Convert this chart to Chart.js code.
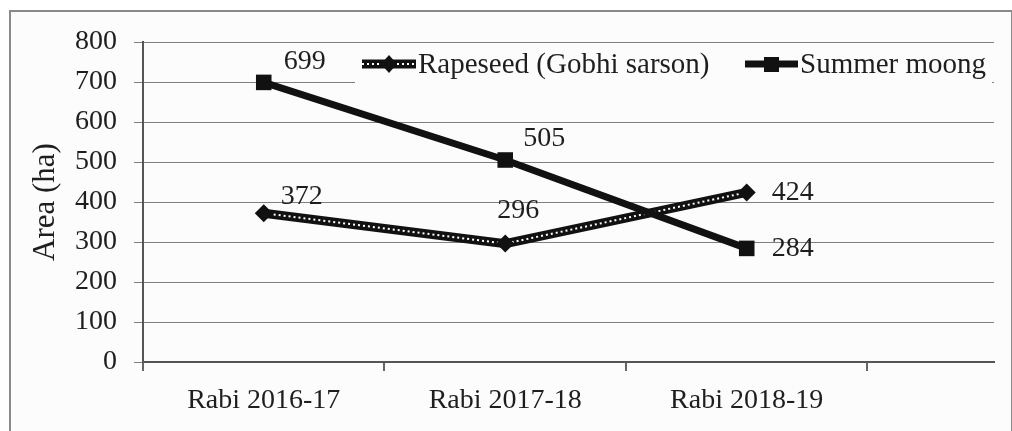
<!DOCTYPE html>
<html>
<head>
<meta charset="utf-8">
<script src="https://cdn.jsdelivr.net/npm/chart.js@4.4.1/dist/chart.umd.min.js"></script>
<style>
  html, body { margin: 0; padding: 0; background: #fff; }
  #frame { position: absolute; left: 9px; top: 10px; width: 1000px; height: 440px;
           border: 2px solid #8a8a8a; background: #fcfcfc; }
  #wrap { position: absolute; left: 0; top: 0; width: 1012px; height: 431px; }
</style>
</head>
<body>
<div id="frame"></div>
<div id="wrap"><canvas id="chart" width="1012" height="431"></canvas></div>
<script>
// Data
const categories = ['Rabi 2016-17', 'Rabi 2017-18', 'Rabi 2018-19'];
const rapeseed = [372, 296, 424];
const summerMoong = [699, 505, 284];
const yTicks = [0, 100, 200, 300, 400, 500, 600, 700, 800];
const seriesNames = ['Rapeseed (Gobhi sarson)', 'Summer moong'];

// Visible span of the category axis (the 4th slot is cut off in the original)
const X_MAX = 3.524;
const FONT = 'Liberation Serif, Times New Roman, serif';
const TEXT = '#1e1e1e';

// Where each value label sits relative to its point (dx, dy in px)
const labelOffsets = {
  summer: [[41, -21], [39, -21], [46, 0]],
  rape: [[38, -17], [13, -33], [46, 0]],
};

const toXY = (arr) => arr.map((v, i) => ({ x: i + 0.5, y: v }));

// Value labels next to each point
const valueLabels = {
  id: 'valueLabels',
  afterDatasetsDraw(chart) {
    const { ctx, scales } = chart;
    ctx.save();
    ctx.font = `28px ${FONT}`;
    ctx.fillStyle = TEXT;
    ctx.textAlign = 'center';
    ctx.textBaseline = 'middle';
    const put = (arr, offs) => arr.forEach((v, i) => {
      const px = scales.x.getPixelForValue(i + 0.5);
      const py = scales.y.getPixelForValue(v);
      ctx.fillText(String(v), px + offs[i][0], py + offs[i][1]);
    });
    put(summerMoong, labelOffsets.summer);
    put(rapeseed, labelOffsets.rape);
    ctx.restore();
  },
};

// Excel-style legend inside the plot, top right, with line + marker samples
const lineLegend = {
  id: 'lineLegend',
  afterDraw(chart) {
    const { ctx } = chart;
    ctx.save();
    ctx.fillStyle = '#fcfcfc';
    ctx.fillRect(355, 46, 637, 44);
    ctx.font = `29px ${FONT}`;
    ctx.textBaseline = 'middle';
    const y = 64;

    // Rapeseed: thick black line with white dots, diamond marker
    ctx.lineCap = 'butt';
    ctx.strokeStyle = '#111';
    ctx.lineWidth = 9;
    ctx.beginPath(); ctx.moveTo(362, y); ctx.lineTo(416, y); ctx.stroke();
    ctx.strokeStyle = '#fff';
    ctx.lineWidth = 2;
    ctx.setLineDash([2, 3]);
    ctx.beginPath(); ctx.moveTo(362, y); ctx.lineTo(416, y); ctx.stroke();
    ctx.setLineDash([]);
    ctx.fillStyle = '#111';
    ctx.beginPath();
    ctx.moveTo(389, y - 9); ctx.lineTo(397, y); ctx.lineTo(389, y + 9); ctx.lineTo(381, y);
    ctx.closePath(); ctx.fill();
    ctx.fillStyle = TEXT;
    ctx.fillText(seriesNames[0], 418, y + 1);

    // Summer moong: solid black line, square marker
    ctx.strokeStyle = '#111';
    ctx.lineWidth = 7;
    ctx.beginPath(); ctx.moveTo(745, y); ctx.lineTo(798, y); ctx.stroke();
    ctx.fillStyle = '#111';
    ctx.fillRect(764, y - 7, 15, 15);
    ctx.fillStyle = TEXT;
    ctx.fillText(seriesNames[1], 800, y + 1);
    ctx.restore();
  },
};

new Chart(document.getElementById('chart'), {
  type: 'line',
  data: {
    datasets: [
      {
        label: seriesNames[1],
        data: toXY(summerMoong),
        borderColor: '#111',
        borderWidth: 7,
        pointStyle: 'rect',
        pointRadius: 11,
        pointBackgroundColor: '#111',
        pointBorderColor: '#111',
        pointBorderWidth: 0,
        tension: 0,
      },
      {
        // white dotted core of the rapeseed line + diamond markers
        label: seriesNames[0],
        data: toXY(rapeseed),
        borderColor: '#fff',
        borderWidth: 2,
        borderDash: [2, 3],
        pointStyle: 'rectRot',
        pointRadius: 9,
        pointBackgroundColor: '#111',
        pointBorderColor: '#111',
        pointBorderWidth: 0,
        tension: 0,
      },
      {
        // black body of the rapeseed line
        label: seriesNames[0] + ' base',
        data: toXY(rapeseed),
        borderColor: '#111',
        borderWidth: 9,
        pointRadius: 0,
        tension: 0,
      },
    ],
  },
  options: {
    responsive: false,
    animation: false,
    layout: { padding: { left: 0, top: 42, right: 18, bottom: 0 } },
    plugins: {
      legend: { display: false },
      tooltip: { enabled: false },
    },
    scales: {
      x: {
        type: 'linear',
        min: 0,
        max: X_MAX,
        afterBuildTicks(scale) {
          const vals = [];
          for (let i = 0; i <= Math.floor(X_MAX); i++) {
            vals.push(i);
            if (i < categories.length) vals.push(i + 0.5);
          }
          scale.ticks = vals.map((v) => ({ value: v }));
        },
        afterFit(scale) { scale.height = 431 - 362; },
        ticks: {
          autoSkip: false,
          maxRotation: 0,
          padding: 13,
          color: TEXT,
          font: { family: FONT, size: 28 },
          callback(v) { return Number.isInteger(v) ? '' : categories[Math.floor(v)]; },
        },
        grid: {
          drawOnChartArea: false,
          tickLength: 9,
          lineWidth: 2,
          color(c) { return c.tick && Number.isInteger(c.tick.value) ? '#666' : 'rgba(0,0,0,0)'; },
        },
        border: { color: '#555', width: 2 },
      },
      y: {
        min: 0,
        max: 800,
        afterBuildTicks(scale) { scale.ticks = yTicks.map((v) => ({ value: v })); },
        afterFit(scale) { scale.width = 143; },
        ticks: {
          padding: 17,
          color: TEXT,
          font: { family: FONT, size: 28 },
        },
        grid: { color: '#808080', lineWidth: 1, tickLength: 9 },
        border: { color: '#555', width: 2 },
        title: {
          display: true,
          text: 'Area (ha)',
          color: TEXT,
          font: { family: FONT, size: 31 },
          padding: { top: 27, bottom: 0 },
        },
      },
    },
  },
  plugins: [valueLabels, lineLegend],
});
</script>
</body>
</html>
